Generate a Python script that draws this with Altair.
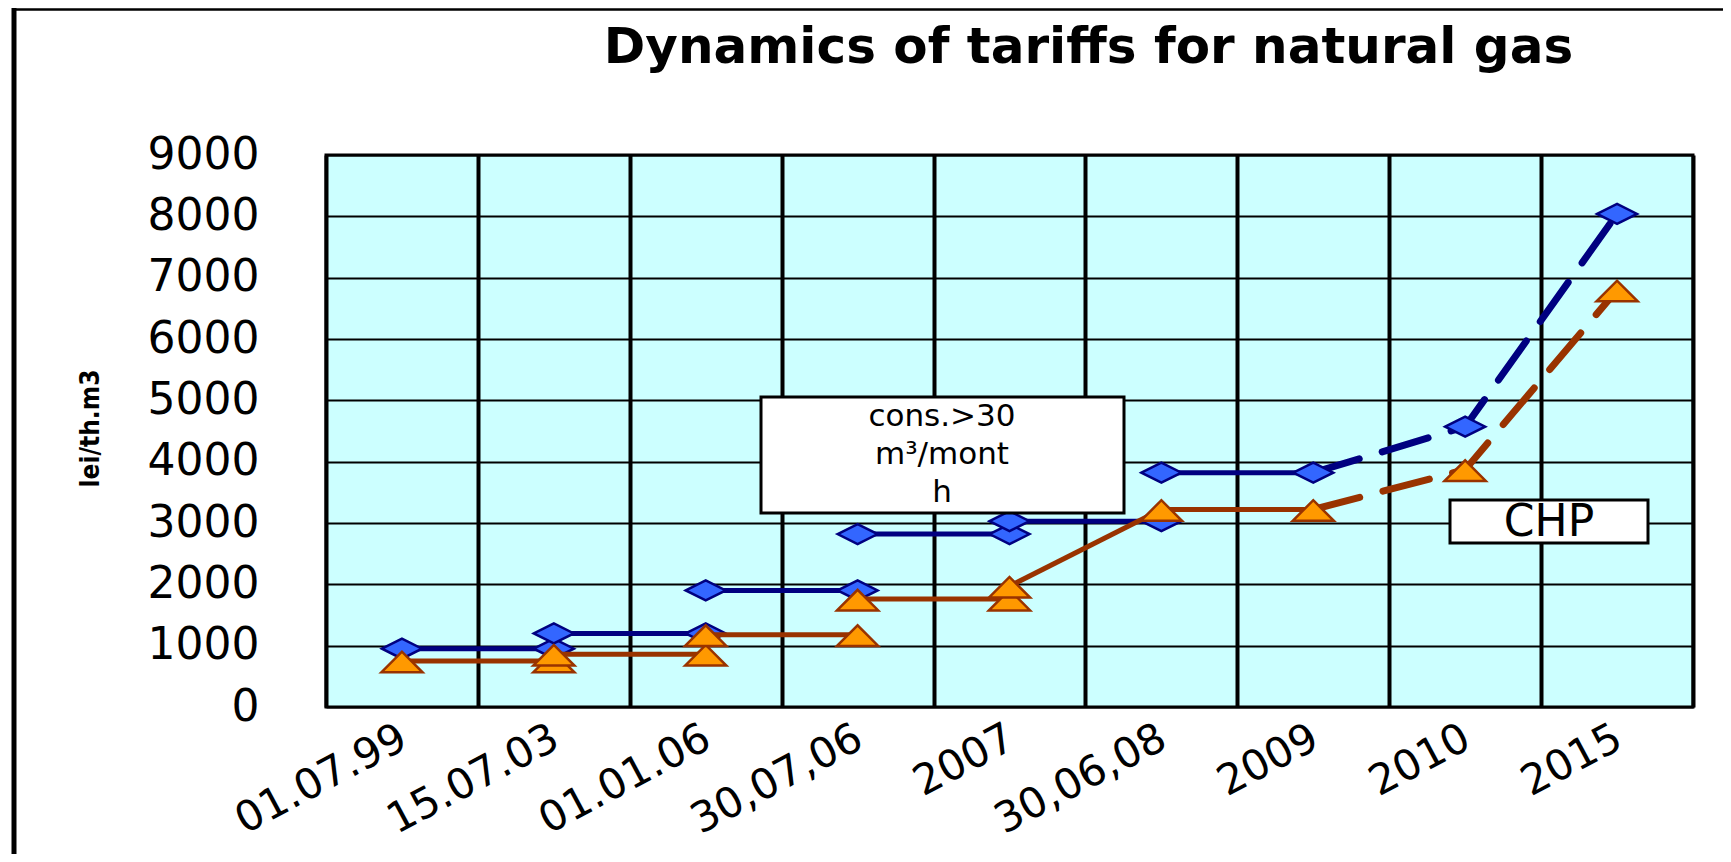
import altair as alt
import pandas as pd

# ---------------- data ----------------
categories = ["01.07.99", "15.07.03", "01.01.06", "30,07,06", "2007",
              "30,06,08", "2009", "2010", "2015"]

# consumers > 30 m3/month (blue): step segments
cons_seg_start = ["01.07.99", "15.07.03", "01.01.06", "30,07,06", "2007", "30,06,08"]
cons_seg_end = ["15.07.03", "01.01.06", "30,07,06", "2007", "30,06,08", "2009"]
cons_seg_value = [950, 1200, 1900, 2820, 3030, 3820]
# forecast (dashed)
cons_proj_cats = ["2009", "2010", "2015"]
cons_proj_values = [3820, 4570, 8040]

# CHP (orange): segments
chp_seg_start = ["01.07.99", "15.07.03", "01.01.06", "30,07,06", "2007", "30,06,08"]
chp_seg_end = ["15.07.03", "01.01.06", "30,07,06", "2007", "30,06,08", "2009"]
chp_seg_value_start = [750, 860, 1180, 1760, 1970, 3220]
chp_seg_value_end = [750, 860, 1180, 1760, 3220, 3220]
chp_proj_cats = ["2009", "2010", "2015"]
chp_proj_values = [3220, 3870, 6800]

y_ticks = [0, 1000, 2000, 3000, 4000, 5000, 6000, 7000, 8000, 9000]

title_text = "Dynamics of tariffs for natural gas"
y_title = "lei/th.m3"
cons_label_lines = ["cons.>30", "m³/mont", "h"]
chp_label = "CHP"

# ---------------- tables ----------------
def seg_table(starts, ends, v0, v1):
    rows = []
    for i, (a, b, p, q) in enumerate(zip(starts, ends, v0, v1)):
        rows.append({"seg": i, "cat": a, "value": p, "k": 0})
        rows.append({"seg": i, "cat": b, "value": q, "k": 1})
    return pd.DataFrame(rows)

cons_seg = seg_table(cons_seg_start, cons_seg_end, cons_seg_value, cons_seg_value)
chp_seg = seg_table(chp_seg_start, chp_seg_end, chp_seg_value_start, chp_seg_value_end)
cons_proj = pd.DataFrame({"cat": cons_proj_cats, "value": cons_proj_values,
                          "k": list(range(len(cons_proj_cats)))})
chp_proj = pd.DataFrame({"cat": chp_proj_cats, "value": chp_proj_values,
                         "k": list(range(len(chp_proj_cats)))})
cons_pts = pd.concat([cons_seg[["cat", "value"]], cons_proj[["cat", "value"]]]).drop_duplicates()
chp_pts = pd.concat([chp_seg[["cat", "value"]], chp_proj[["cat", "value"]]]).drop_duplicates()

# ---------------- encodings ----------------
LABEL_FONT = "DejaVu Sans"
x_enc = alt.X(
    "cat:N", sort=categories,
    scale=alt.Scale(type="band", domain=categories, paddingInner=0, paddingOuter=0),
    axis=alt.Axis(title=None, tickBand="extent", grid=True, gridColor="black",
                  gridWidth=4, gridOpacity=1, ticks=False, domain=False,
                  labelAngle=-28, labelAlign="right", labelBaseline="top",
                  labelFont=LABEL_FONT, labelFontSize=42, labelColor="black",
                  labelPadding=10, labelOffset=-8, labelOverlap=False, labelLimit=0),
)
y_enc = alt.Y(
    "value:Q",
    scale=alt.Scale(domain=[0, 9000], nice=False, zero=True),
    axis=alt.Axis(values=y_ticks, format="d", grid=True, gridColor="black",
                  gridWidth=2, gridOpacity=1, ticks=False, domain=False,
                  labelFont=LABEL_FONT, labelFontSize=44, labelColor="black",
                  labelPadding=67, labelLimit=0, labelOverlap=False,
                  title=y_title, titleFont="Liberation Sans Narrow, DejaVu Sans Condensed, sans-serif",
                  titleFontSize=26, titleFontWeight="bold", titleColor="black",
                  titleX=-236, titleY=273, titleAngle=-90, titleAlign="center",
                  titleBaseline="middle"),
)

NAVY = "#000080"
BLUE = "#3366FF"
BROWN = "#993300"
ORANGE = "#FF9900"
DIAMOND = "M-1,0L0,-0.5L1,0L0,0.5Z"
TRIANGLE = "M-1,0.55L0,-0.45L1,0.55Z"

cons_lines = alt.Chart(cons_seg).mark_line(color=NAVY, strokeWidth=5).encode(
    x=x_enc, y=y_enc, detail="seg:N", order="k:Q")
cons_dash = alt.Chart(cons_proj).mark_line(
    color=NAVY, strokeWidth=7, strokeDash=[48, 24], strokeCap="round").encode(
    x=x_enc, y=y_enc, order="k:Q")
cons_marks = alt.Chart(cons_pts).mark_point(
    shape=DIAMOND, size=1600, filled=True, color=BLUE, stroke=NAVY,
    strokeWidth=2.5, opacity=1).encode(x=x_enc, y=y_enc)

chp_lines = alt.Chart(chp_seg).mark_line(color=BROWN, strokeWidth=5).encode(
    x=x_enc, y=y_enc, detail="seg:N", order="k:Q")
chp_dash = alt.Chart(chp_proj).mark_line(
    color=BROWN, strokeWidth=7, strokeDash=[48, 24], strokeCap="round").encode(
    x=x_enc, y=y_enc, order="k:Q")
chp_marks = alt.Chart(chp_pts).mark_point(
    shape=TRIANGLE, size=1700, filled=True, color=ORANGE, stroke=BROWN,
    strokeWidth=2.5, opacity=1).encode(x=x_enc, y=y_enc)

one = pd.DataFrame({"a": [0]})

cons_box = alt.Chart(one).mark_rect(fill="white", stroke="black", strokeWidth=3).encode(
    x=alt.value(435), x2=alt.value(798), y=alt.value(242), y2=alt.value(358))
cons_text = alt.Chart(one).mark_text(
    font=LABEL_FONT, fontSize=31, lineHeight=38, align="center", baseline="middle",
    color="black").encode(x=alt.value(616), y=alt.value(262),
                          text=alt.value(cons_label_lines))
chp_box = alt.Chart(one).mark_rect(fill="white", stroke="black", strokeWidth=3).encode(
    x=alt.value(1124), x2=alt.value(1322), y=alt.value(345), y2=alt.value(388))
chp_text = alt.Chart(one).mark_text(
    font=LABEL_FONT, fontSize=44, align="center", baseline="middle",
    color="black").encode(x=alt.value(1223), y=alt.value(368), text=alt.value(chp_label))

frame_left = alt.Chart(one).mark_rule(color="black", strokeWidth=5).encode(
    x=alt.value(-312), y=alt.value(-147), y2=alt.value(700))
frame_top = alt.Chart(one).mark_rule(color="black", strokeWidth=2.5).encode(
    x=alt.value(-314), x2=alt.value(1400), y=alt.value(-145.5))

chart = alt.layer(
    cons_lines, cons_dash, cons_marks, chp_lines, chp_dash, chp_marks,
    cons_box, cons_text, chp_box, chp_text, frame_left, frame_top,
).properties(
    width=1367, height=552,
    title=alt.TitleParams(text=title_text, font=LABEL_FONT, fontSize=50,
                          fontWeight="bold", color="black", anchor="middle",
                          frame="group", dx=79, offset=0, dy=107, baseline="alphabetic"),
    autosize=alt.AutoSizeParams(type="none"),
    padding={"left": 318, "top": 147, "right": 30, "bottom": 147},
).configure_view(fill="#CCFFFF", stroke="black", strokeWidth=3)

chart.save("out.html", embed_options={"renderer": "svg", "actions": False})
